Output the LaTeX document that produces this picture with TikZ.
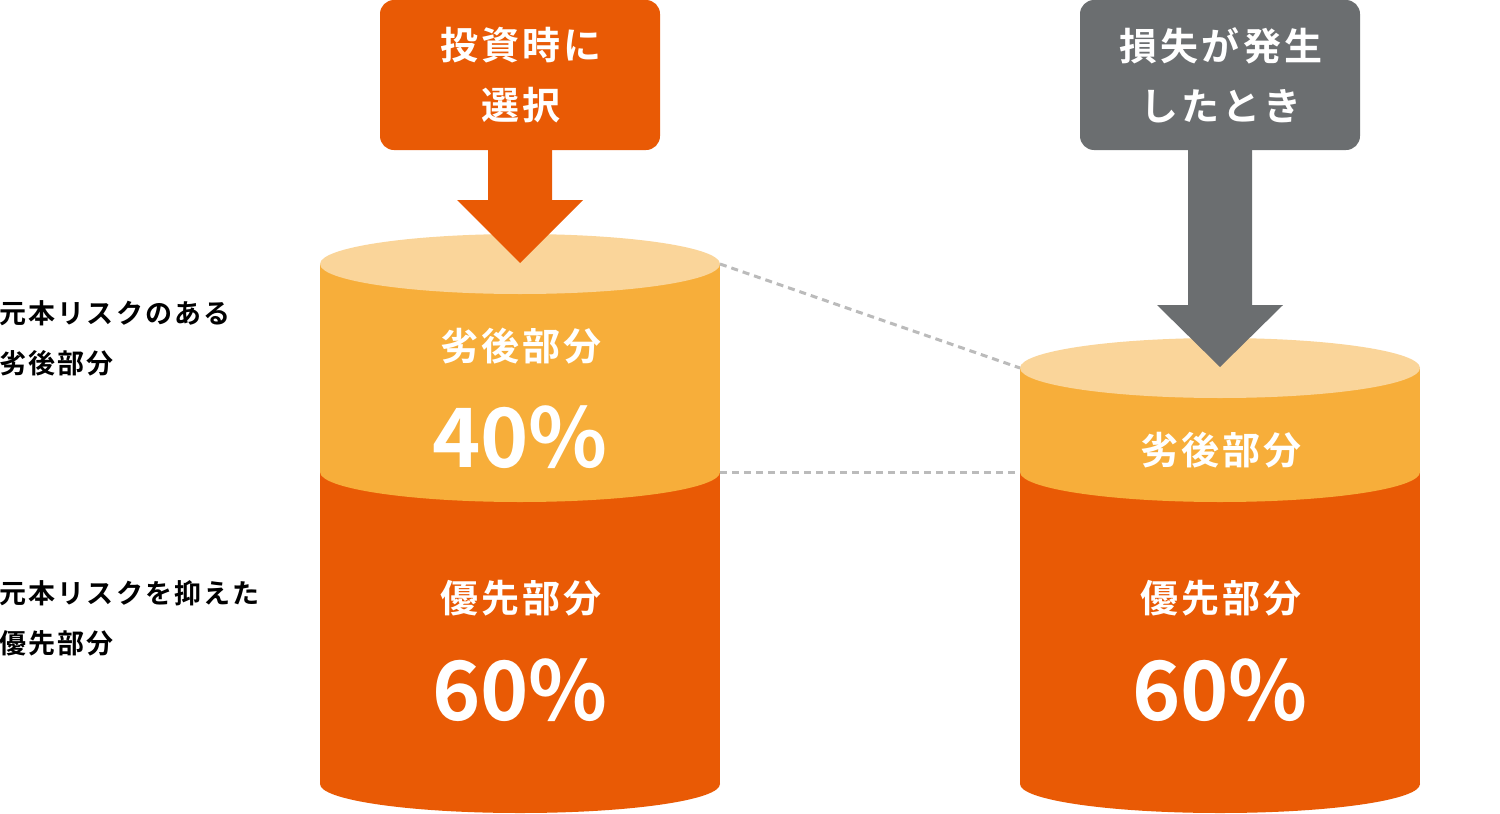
\documentclass[tikz,border=0pt]{standalone}
\usepackage{fontspec}
\setmainfont{Noto Sans CJK JP}[BoldFont={* Bold}]
\definecolor{dark}{HTML}{E95A05}
\definecolor{mid}{HTML}{F7AE3A}
\definecolor{light}{HTML}{FAD59A}
\definecolor{grayb}{HTML}{6B6E70}
\definecolor{dashc}{HTML}{BBBBBB}
\tikzset{
 wt/.style={text=white,font=\bfseries\fontsize{38}{60}\selectfont\addfontfeature{LetterSpace=8},align=center},
 big/.style={text=white,font=\bfseries\fontsize{82}{90}\selectfont},
 lab/.style={text=black,font=\bfseries\fontsize{27}{50}\selectfont\addfontfeature{LetterSpace=8},align=left,anchor=west},
 dl/.style={draw=dashc,line width=3pt,dash pattern=on 7pt off 5pt}
}
\begin{document}
\begin{tikzpicture}[x=1pt,y=-1pt]
\useasboundingbox (0,0) rectangle (1500,814);
% left cylinder
\fill[dark] (320,472) rectangle (720,784);
\fill[dark] (520,784) ellipse [x radius=200,y radius=29];
\fill[mid] (320,264) rectangle (720,472);
\fill[mid] (520,472) ellipse [x radius=200,y radius=30];
\fill[light] (520,264) ellipse [x radius=200,y radius=30];
% right cylinder
\fill[dark] (1020,472) rectangle (1420,784);
\fill[dark] (1220,784) ellipse [x radius=200,y radius=29];
\fill[mid] (1020,368) rectangle (1420,472);
\fill[mid] (1220,472) ellipse [x radius=200,y radius=30];
\fill[light] (1220,368) ellipse [x radius=200,y radius=30];
% dashed
\coordinate (a1) at (720,264); \coordinate (b1) at (1020,368);
\coordinate (a2) at (720,472); \coordinate (b2) at (1020,472);
\draw[dl] (a1) -- (b1);
\draw[dl] (a2) -- (b2);
% arrows
\fill[dark,rounded corners=14pt] (380,0) rectangle (660,150);
\fill[dark] (488,140) -- (552,140) -- (552,200) -- (583,200) -- (520,263) -- (457,200) -- (488,200) -- cycle;
\node[wt] (t1) at (521,75) {投資時に\\選択};
\fill[grayb,rounded corners=14pt] (1080,0) rectangle (1360,150);
\fill[grayb] (1188,140) -- (1252,140) -- (1252,305) -- (1283,305) -- (1220,367) -- (1157,305) -- (1188,305) -- cycle;
\node[wt] (t2) at (1221,75) {損失が発生\\したとき};
% texts
\node[wt] (l1) at (521,346) {劣後部分};
\node[big] (l2) at (520,437) {40\%};
\node[wt] (l3) at (521,598) {優先部分};
\node[big] (l4) at (520,690) {60\%};
\node[wt] (r1) at (1221,450) {劣後部分};
\node[wt] (r3) at (1221,598) {優先部分};
\node[big] (r4) at (1220,690) {60\%};
\node[lab] (s1) at (-4,338) {元本リスクのある\\劣後部分};
\node[lab] (s2) at (-4,618) {元本リスクを抑えた\\優先部分};
\end{tikzpicture}
\end{document}
